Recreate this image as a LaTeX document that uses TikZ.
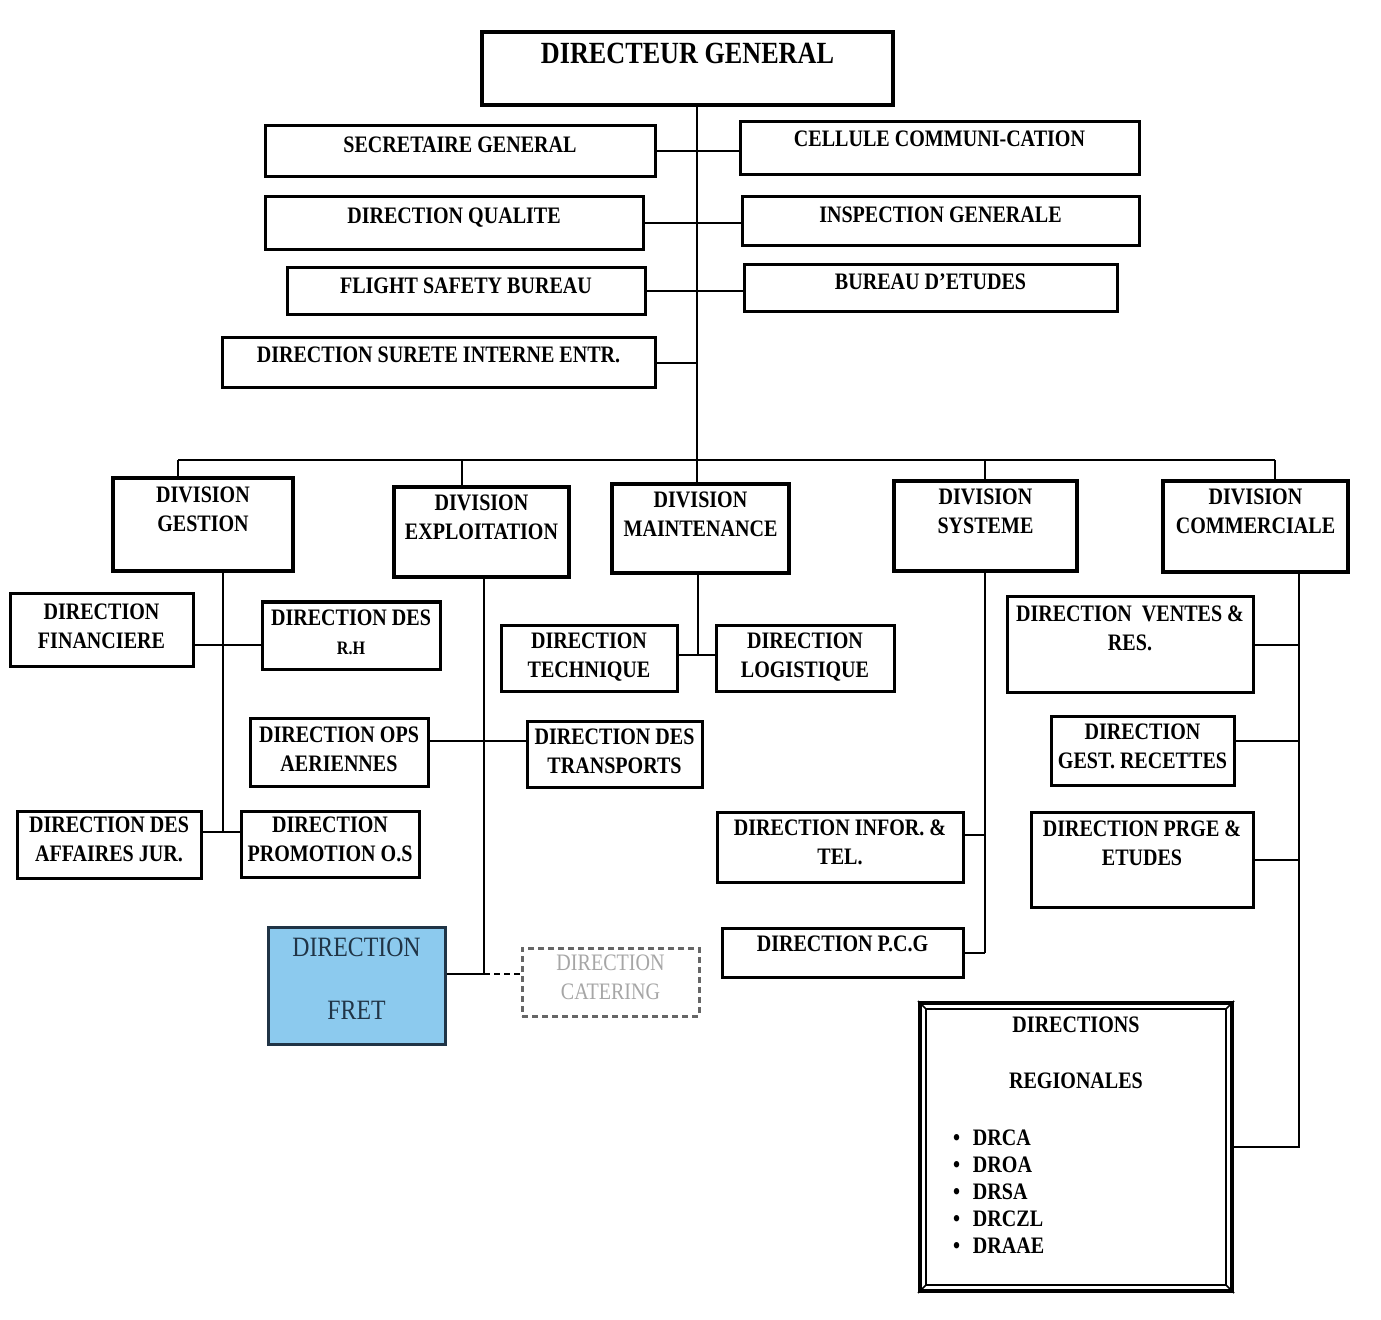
\documentclass[tikz,border=0pt]{standalone}
\usepackage{fontspec}
\setmainfont{Liberation Serif}[FakeStretch=0.85]
\usepackage{xcolor}
\usepackage{tikz}

\definecolor{fretblue}{RGB}{140,202,238}
\definecolor{fretink}{RGB}{32,52,70}

\newlength{\px}
\setlength{\px}{0.5pt}
\newcommand{\orgfont}{\fontsize{11.8}{14.5}\selectfont\bfseries}
% box contents: [top gap]{width}{height}{text}, all in pixels
\newcommand{\boxtext}[4][8]{\parbox[c][#3\px][t]{#2\px}{\centering\vspace*{#1\px}#4\par}}

\tikzset{
	unit/.style={draw, line width=1.5pt, inner sep=0pt, font=\orgfont}, % every box of the chart
	head/.style={unit, line width=2pt}, % director and divisions
	link/.style={line width=1pt}, % connecting lines
}

\begin{document}
\begin{tikzpicture}[x=0.5pt, y=-0.5pt]
	\fill[white] (0,0) rectangle (1381,1320);

	% Direction generale
	\node[head, font=\fontsize{15.4}{18}\selectfont\bfseries] (dg) at (687.5,68.5) {\boxtext[11]{411}{73}{DIRECTEUR GENERAL}};
	\node[unit] (sg) at (460,151.5) {\boxtext[11]{390}{51}{SECRETAIRE GENERAL}};
	\node[unit] (qual) at (454,223.5) {\boxtext[11]{378}{53}{DIRECTION QUALITE}};
	\node[unit] (fsb) at (466,291.5) {\boxtext[10]{358}{47}{FLIGHT SAFETY BUREAU}};
	\node[unit] (sur) at (438.5,363) {\boxtext[9]{433}{50}{DIRECTION SURETE INTERNE ENTR.}};
	\node[unit] (cel) at (939.5,148.5) {\boxtext[9]{399}{53}{CELLULE COMMUNI-CATION}};
	\node[unit] (insp) at (940.5,221.5) {\boxtext[10]{397}{49}{INSPECTION GENERALE}};
	\node[unit] (bde) at (930.5,288.5) {\boxtext[9]{373}{47}{BUREAU D'ETUDES}};

	% Divisions
	\node[head] (gest) at (203,524.5) {\boxtext[9]{180}{93}{DIVISION\\GESTION}};
	\node[head] (expl) at (481.5,532) {\boxtext[8]{175}{90}{DIVISION\\EXPLOITATION}};
	\node[head] (mnt) at (700.5,528.5) {\boxtext[8]{177}{89}{DIVISION\\MAINTENANCE}};
	\node[head] (sys) at (985.5,526) {\boxtext[8]{183}{90}{DIVISION\\SYSTEME}};
	\node[head] (com) at (1255.5,526.5) {\boxtext[8]{185}{91}{DIVISION\\COMMERCIALE}};

	% Directions
	\node[unit] (fin) at (101.5,630) {\boxtext[10]{183}{72}{DIRECTION\\FINANCIERE}};
	\node[unit] (rh) at (351,635.5) {\boxtext[8]{178}{67}{DIRECTION DES\\{\fontsize{9.5}{14.5}\selectfont R.H}}};
	\node[unit] (jur) at (109,844.5) {\boxtext[6]{184}{67}{DIRECTION DES\\AFFAIRES JUR.}};
	\node[unit] (pos) at (330,844) {\boxtext[6]{178}{66}{DIRECTION\\PROMOTION O.S}};
	\node[unit] (ops) at (339,752) {\boxtext[9]{178}{68}{DIRECTION OPS\\AERIENNES}};
	\node[unit] (tra) at (614.5,754) {\boxtext[8]{175}{66}{DIRECTION DES\\TRANSPORTS}};
	\node[unit, fill=fretblue, draw=fretink, text=fretink] (fret) at (356.5,985.5) {\boxtext[11]{177}{117}{\mdseries\fontsize{14}{17}\selectfont DIRECTION\\[29\px]FRET}};
	\node[unit, draw=gray!80!black, densely dashed, text=gray!70, font=\orgfont\mdseries] (cat) at (610.5,982) {\boxtext[7]{177}{68}{DIRECTION\\CATERING}};
	\node[unit] (tec) at (589,658) {\boxtext[8]{176}{66}{DIRECTION\\TECHNIQUE}};
	\node[unit] (log) at (805,658) {\boxtext[8]{178}{66}{DIRECTION\\LOGISTIQUE}};
	\node[unit] (inf) at (840,847) {\boxtext[8]{246}{70}{DIRECTION INFOR. \&\\TEL.}};
	\node[unit] (pcg) at (842.5,952.5) {\boxtext[8]{241}{49}{DIRECTION P.C.G}};
	\node[unit] (ven) at (1130,644.5) {\boxtext[9]{246}{95}{DIRECTION\ \ VENTES \&\\RES.}};
	\node[unit] (rec) at (1142.5,750.5) {\boxtext[8]{183}{69}{DIRECTION\\GEST. RECETTES}};
	\node[unit] (prg) at (1142,859.5) {\boxtext[9]{222}{95}{DIRECTION PRGE \&\\ETUDES}};
	\node[head] (reg) at (1076,1147) {\boxtext[14]{312}{288}{DIRECTIONS\\[27\px]REGIONALES\par\vspace{30\px}
		\raggedright\leftskip=33\px\baselineskip=27\px
		\makebox[20\px][l]{\textbullet}DRCA\\
		\makebox[20\px][l]{\textbullet}DROA\\
		\makebox[20\px][l]{\textbullet}DRSA\\
		\makebox[20\px][l]{\textbullet}DRCZL\\
		\makebox[20\px][l]{\textbullet}DRAAE}};
	\draw[line width=0.8pt] ([shift={(8,8)}]reg.north west) rectangle ([shift={(-8,-8)}]reg.south east);
	\draw[line width=0.8pt] (reg.north west) -- ++(8,8) (reg.north east) -- ++(-8,8)
		(reg.south west) -- ++(8,-8) (reg.south east) -- ++(-8,-8);

	% Trunk and bus
	\coordinate (trunk) at (697,460);
	\coordinate (busL) at (178,460);
	\coordinate (busR) at (1275,460);
	\coordinate (dEx) at (462,460);
	\coordinate (dSy) at (985,460);
	\draw[link] (trunk |- dg.south) -- (trunk);
	\draw[link] (busL) -- (busR);
	\foreach \d/\n in {busL/gest, dEx/expl, trunk/mnt, dSy/sys, busR/com}
		\draw[link] (\d) -- (\d |- \n.north);
	\foreach \l/\r in {sg/cel, qual/insp, fsb/bde}
		\draw[link] (\l.east) -- (\l.east -| \r.west);
	\draw[link] (sur.east) -- (sur.east -| trunk);

	% Gestion
	\coordinate (jG1) at (223,645);
	\coordinate (jG2) at (223,832);
	\draw[link] (jG1 |- gest.south) -- (jG2);
	\draw[link] (fin.east |- jG1) -- (rh.west |- jG1);
	\draw[link] (jur.east |- jG2) -- (pos.west |- jG2);

	% Exploitation
	\coordinate (jE1) at (484,741);
	\coordinate (jE2) at (484,974);
	\draw[link] (jE1 |- expl.south) -- (jE2);
	\draw[link] (ops.east |- jE1) -- (tra.west |- jE1);
	\draw[link] (fret.east |- jE2) -- (jE2);
	\draw[link, densely dashed] (jE2) -- (cat.west |- jE2);

	% Maintenance
	\coordinate (jM) at (698,655);
	\draw[link] (jM |- mnt.south) -- (jM);
	\draw[link] (tec.east |- jM) -- (log.west |- jM);

	% Systeme
	\coordinate (jS1) at (985,835);
	\coordinate (jS2) at (985,953);
	\draw[link] (jS1 |- sys.south) -- (jS2);
	\draw[link] (inf.east |- jS1) -- (jS1);
	\draw[link] (pcg.east |- jS2) -- (jS2);

	% Commerciale
	\coordinate (jC) at (1299,1148);
	\draw[link] (jC |- com.south) -- (jC);
	\foreach \n in {ven, prg, reg}
		\draw[link] (\n.east) -- (\n.east -| jC);
	\draw[link] ([yshift=5pt]rec.east) -- ([yshift=5pt]rec.east -| jC);
\end{tikzpicture}
\end{document}
